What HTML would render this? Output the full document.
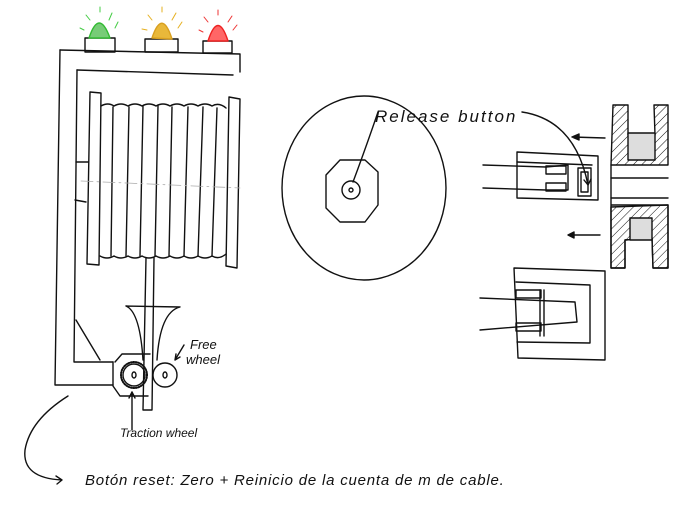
<!DOCTYPE html>
<html><head><meta charset="utf-8"><style>
html,body{margin:0;padding:0;background:#fff;}
svg{display:block}
text{font-family:"Liberation Sans",sans-serif;fill:#111;font-style:italic}
</style></head><body>
<svg width="683" height="505" viewBox="0 0 683 505" xmlns="http://www.w3.org/2000/svg">
<defs>
<pattern id="h" width="6" height="6" patternUnits="userSpaceOnUse" patternTransform="rotate(45)"><line x1="0" y1="0" x2="0" y2="6" stroke="#111" stroke-width="1"/></pattern>
</defs>
<g fill="none" stroke="#111" stroke-width="1.4" stroke-linejoin="round" stroke-linecap="round">
<!-- lights -->
<rect x="85" y="38" width="30" height="14"/>
<rect x="145" y="39" width="33" height="13"/>
<rect x="203" y="41" width="29" height="12"/>
<path d="M89 38 Q99 8 110 38 Z" fill="#7c7" stroke="#3b3"/>
<path d="M152 38 Q162 8 172 39 Z" fill="#e9b83a" stroke="#d9a020"/>
<path d="M208 41 Q218 10 228 41 Z" fill="#f66" stroke="#e22"/>
<g stroke="#4c4" stroke-width="1"><line x1="90" y1="20" x2="86" y2="15"/><line x1="100" y1="12" x2="100" y2="7"/><line x1="109" y1="20" x2="112" y2="13"/><line x1="84" y1="30" x2="80" y2="28"/><line x1="115" y1="28" x2="118" y2="22"/></g>
<g stroke="#e6b020" stroke-width="1"><line x1="152" y1="20" x2="148" y2="15"/><line x1="162" y1="12" x2="162" y2="7"/><line x1="172" y1="20" x2="176" y2="13"/><line x1="147" y1="30" x2="142" y2="29"/><line x1="178" y1="28" x2="182" y2="22"/></g>
<g stroke="#e33" stroke-width="1"><line x1="208" y1="22" x2="204" y2="17"/><line x1="218" y1="15" x2="218" y2="10"/><line x1="228" y1="22" x2="232" y2="16"/><line x1="203" y1="32" x2="199" y2="30"/><line x1="233" y1="30" x2="237" y2="25"/></g>
<!-- frame -->
<path d="M60 50 L240 54 L240 72"/>
<path d="M60 50 L55 385 L113 385"/>
<path d="M77 70 L233 75"/>
<path d="M77 70 L74 362 L113 362"/>
<path d="M76 162 L88 162 M75 200 L86 202"/>
<path d="M76 320 L100 360"/>
<!-- spool -->
<path d="M90 92 L101 93 L99 265 L87 264 Z"/>
<path d="M229 97 L240 99 L237 268 L226 266 Z"/>
<path d="M101 106 Q108 102 114 106 Q121 102 128 106 Q135 102 142 106 Q149 102 156 106 Q163 102 170 106 Q177 102 184 106 Q191 102 198 106 Q205 102 212 106 Q219 102 226 108"/>
<path d="M100 256 Q107 260 114 256 Q121 260 128 256 Q135 260 142 256 Q149 260 156 256 Q163 260 170 256 Q177 260 184 256 Q191 260 198 256 Q205 260 212 256 Q219 260 226 254"/>
<path d="M113 107 L111 256 M129 107 L126 256 M143 106 L140 256 M158 106 L155 256 M172 107 L169 256 M188 107 L184 256 M203 107 L198 256 M217 108 L212 256"/>
<path d="M81 181 L240 188" stroke="#aaa" stroke-dasharray="12 4 2 4" stroke-width="0.8"/>
<!-- cable & funnel -->
<path d="M146 258 L143 410 L152 410 L154 258"/>
<path d="M126 306 L180 307 Q160 312 157 360 M126 306 Q140 312 143 360"/>
<path d="M115 362 L122 354 L150 354 M113 362 L113 386 L120 396 L148 396"/>
<circle cx="134" cy="375" r="13" stroke-dasharray="1 1.5" stroke-width="2"/>
<circle cx="134" cy="375" r="11"/>
<ellipse cx="134" cy="375" rx="2" ry="3"/>
<circle cx="165" cy="375" r="12"/>
<ellipse cx="165" cy="375" rx="2" ry="3"/>
<path d="M184 345 L175 360 M175 360 L176 354 M175 360 L180 357"/>
<path d="M132 430 L132 392 M132 392 L129 398 M132 392 L135 398"/>
<!-- bottom arrow curve -->
<path d="M68 396 Q30 420 25 450 Q22 478 62 480 M62 480 L56 476 M62 480 L57 484"/>
<!-- big circle -->
<ellipse cx="364" cy="188" rx="82" ry="92"/>
<path d="M340 160 L365 160 L378 172 L378 205 L365 222 L340 222 L326 208 L326 175 Z"/>
<circle cx="351" cy="190" r="9"/>
<circle cx="351" cy="190" r="2"/>
<path d="M378 112 Q365 150 353 182"/>
<path d="M522 112 Q575 120 588 185 M588 185 L584 180 M588 185 L591 179"/>
<!-- top connector -->
<path d="M517 152 L598 156 L598 200 L517 198 Z"/>
<path d="M517 162 L592 165"/>
<path d="M483 165 L546 167 L568 165 L568 190 L546 190 L483 188"/>
<rect x="546" y="166" width="20" height="8"/><rect x="546" y="183" width="20" height="8"/>
<rect x="578" y="168" width="13" height="28"/><rect x="581" y="172" width="7" height="20"/>
<!-- pulley -->
<path d="M613 105 L628 105 L628 135 L655 135 L654 105 L668 105 L668 165 L611 165 Z" fill="url(#h)"/>
<path d="M611 165 L611 268 L625 268 L625 240 L652 238 L653 268 L668 268 L668 205 L611 205"/>
<path d="M611 207 L668 205 L668 268 L653 268 L652 238 L625 240 L625 268 L611 268 Z" fill="url(#h)"/>
<rect x="628" y="133" width="27" height="27" fill="#ddd"/>
<rect x="630" y="218" width="22" height="22" fill="#ddd"/>
<path d="M611 178 L668 178 M611 198 L668 198"/>
<path d="M605 138 L572 137 M572 137 L579 134 L579 140 Z" fill="#111"/>
<path d="M600 235 L568 235 M568 235 L574 232 L574 238 Z" fill="#111"/>
<!-- bottom connector -->
<path d="M514 268 L605 271 L605 360 L518 358 Z"/>
<path d="M516 282 L590 285 L590 343 L517 342"/>
<path d="M480 298 L575 302 L577 322 L480 330"/>
<rect x="516" y="290" width="25" height="8"/><rect x="516" y="323" width="25" height="8"/>
<path d="M540 290 L540 336 M544 290 L544 336"/>
</g>
<text x="375" y="122" font-size="17" letter-spacing="2">Release button</text>
<text x="190" y="349" font-size="13">Free</text>
<text x="186" y="364" font-size="13">wheel</text>
<text x="120" y="437" font-size="12">Traction wheel</text>
<text x="85" y="485" font-size="15" letter-spacing="0.8">Botón reset: Zero + Reinicio de la cuenta de m de cable.</text>
</svg>
</body></html>
